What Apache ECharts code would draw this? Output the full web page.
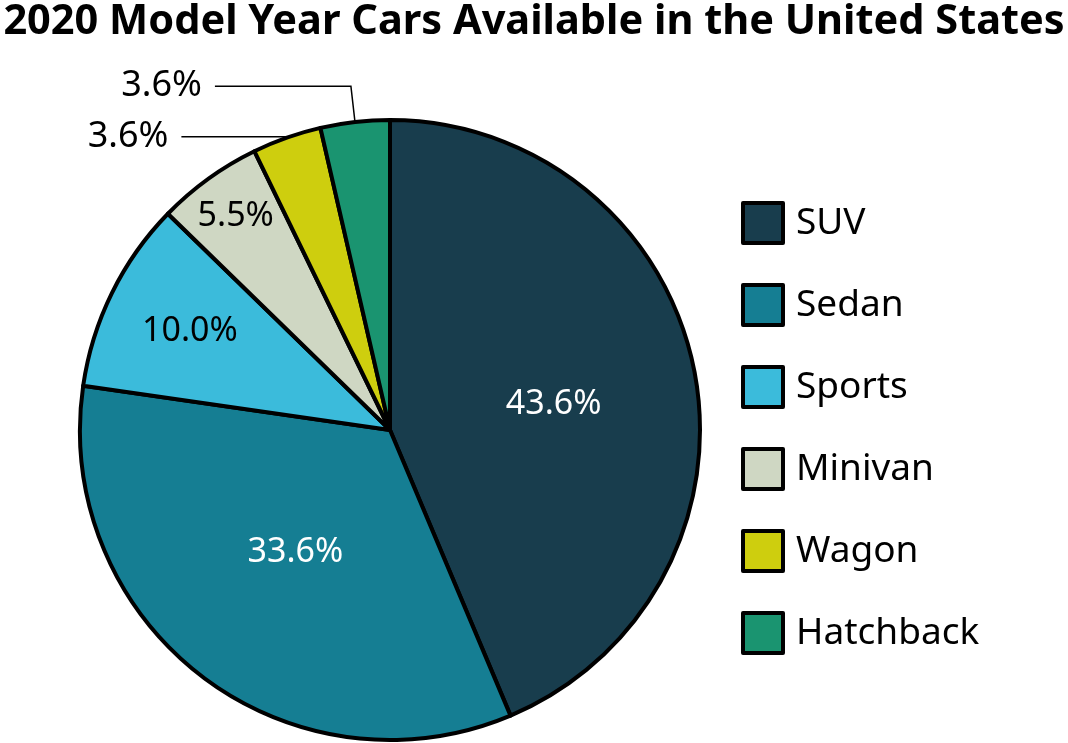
<!DOCTYPE html>
<html lang="en">
<head>
    <meta charset="UTF-8">
    <title>2020 Model Year Cars</title>
    <script src="https://cdn.jsdelivr.net/npm/echarts@6/dist/echarts.min.js"></script>
    <style>
        html, body { margin: 0; padding: 0; background: #fff; }
        #chart { width: 1068px; height: 743px; }
    </style>
</head>
<body>
    <div id="chart"></div>
    <script>
        // chart data
        const categories = ['SUV', 'Sedan', 'Sports', 'Minivan', 'Wagon', 'Hatchback'];
        const shares = [43.6, 33.6, 10.0, 5.5, 3.6, 3.6];
        const colors = ['#183d4d', '#157e93', '#3bbbdb', '#cfd7c3', '#cece0e', '#1a9470'];

        // layout tweaks (not data)
        const center = [390, 430];
        const R = 310;
        const insideRadius = [0.525, 0.49, 0.71, 0.84];  // label radius as a fraction of R
        const insideTurn = [2.5, 0, 0, 0];                // extra clockwise turn of label, degrees
        const outsideLine = { 4: [1, 105], 5: [36, 136] }; // [length, length2]

        const total = shares.reduce((a, b) => a + b, 0);
        const midAngle = [];
        let acc = 0;
        shares.forEach(v => {
            midAngle.push((acc + v / 2) / total * 2 * Math.PI);
            acc += v;
        });

        const data = categories.map((name, i) => {
            const item = { name: name, value: shares[i], itemStyle: { color: colors[i] } };
            if (outsideLine[i]) {
                item.label = { position: 'outside', color: '#000', fontSize: 36 };
                item.labelLine = { show: true, length: outsideLine[i][0], length2: outsideLine[i][1] };
            } else {
                item.label = { position: 'inside', color: i < 2 ? '#fff' : '#000' };
            }
            return item;
        });

        const chart = echarts.init(document.getElementById('chart'));
        chart.setOption({
            animation: false,
            title: {
                text: '2020 Model Year Cars Available in the United States',
                left: 'center',
                top: 1,
                padding: 0,
                textStyle: { fontFamily: 'Noto Sans', fontWeight: 'bold', fontSize: 41.5, color: '#000' }
            },
            legend: {
                orient: 'vertical',
                left: 741,
                top: 201,
                padding: 0,
                icon: 'rect',
                itemWidth: 40,
                itemHeight: 40,
                itemGap: 38,
                data: categories,
                itemStyle: { borderColor: '#000', borderWidth: 4 },
                textStyle: { fontFamily: 'Noto Sans', fontSize: 37, lineHeight: 40, color: '#000', padding: [0, 0, 0, 8] }
            },
            series: [{
                type: 'pie',
                center: center,
                radius: R,
                startAngle: 90,
                clockwise: true,
                data: data,
                itemStyle: { borderColor: '#000', borderWidth: 4 },
                label: {
                    fontFamily: 'Noto Sans',
                    fontSize: 34,
                    formatter: p => p.value.toFixed(1) + '%',
                    distanceToLabelLine: 13
                },
                labelLine: { lineStyle: { color: '#000', width: 1.5 } },
                labelLayout: function (params) {
                    const i = params.dataIndex;
                    const a = midAngle[i];
                    if (i < insideRadius.length) {
                        // label is placed at R/2 on the mid angle; move it to the wanted spot
                        const b = a + insideTurn[i] * Math.PI / 180;
                        const r = insideRadius[i] * R;
                        const h = 0.5 * R;
                        return {
                            dx: r * Math.sin(b) - h * Math.sin(a),
                            dy: -r * Math.cos(b) + h * Math.cos(a)
                        };
                    }
                    const pts = params.labelLinePoints;
                    if (pts) {
                        const r0 = R - 24;
                        pts[0] = [center[0] + r0 * Math.sin(a), center[1] - r0 * Math.cos(a)];
                        return { labelLinePoints: pts };
                    }
                    return {};
                }
            }]
        });
    </script>
</body>
</html>
